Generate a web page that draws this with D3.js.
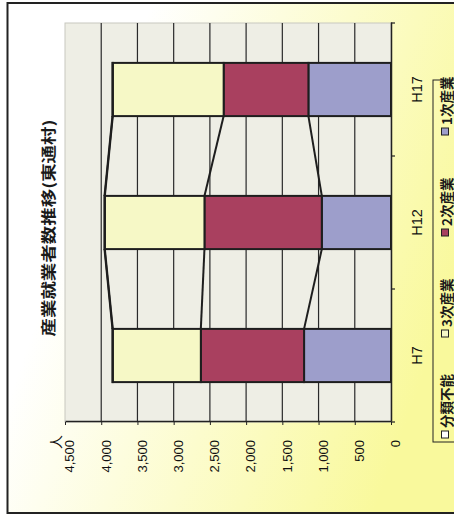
<!DOCTYPE html>
<html>
<head>
<meta charset="utf-8">
<script src="https://cdn.jsdelivr.net/npm/d3@7"></script>
<style>
  body { margin: 0; background: #fff; }
  svg { display: block; }
</style>
</head>
<body>
<svg id="chart" width="454" height="518"></svg>
<script>
// values (people)
const categories = ["H7", "H12", "H17"];
const primary = [1200, 955, 1140];      // 1次産業
const secondary = [1425, 1620, 1170];   // 2次産業
const tertiary = [1215, 1375, 1530];    // 3次産業
const unclassified = [5, 5, 5];         // 分類不能
const valueTicks = [0, 500, 1000, 1500, 2000, 2500, 3000, 3500, 4000, 4500];
const keys = ["1次産業", "2次産業", "3次産業", "分類不能"];
const legendOrder = ["分類不能", "3次産業", "2次産業", "1次産業"];
const colors = {
  "1次産業": "#9d9ecb",
  "2次産業": "#a9405f",
  "3次産業": "#f6f8c6",
  "分類不能": "#ffffff"
};

const svg = d3.select("#chart");
const W = 518; // the chart is drawn unrotated, then turned a quarter to the left

// chart area gradient, in page coordinates
const defs = svg.append("defs");
const grad = defs.append("linearGradient")
  .attr("id", "bg")
  .attr("gradientUnits", "userSpaceOnUse")
  .attr("x1", 80).attr("y1", 200)
  .attr("x2", 440).attr("y2", 330);
grad.append("stop").attr("offset", 0).attr("stop-color", "#ffffff");
grad.append("stop").attr("offset", 1).attr("stop-color", "#f9f99c");

svg.append("rect")
  .attr("x", 7.5).attr("y", 3)
  .attr("width", 480).attr("height", 510)
  .attr("fill", "url(#bg)")
  .attr("stroke", "#222")
  .attr("stroke-width", 2);

const g = svg.append("g").attr("transform", `translate(0,${W}) rotate(-90)`);

const plot = { left: 96, right: 495, top: 65, bottom: 391 };

const x = d3.scaleBand()
  .domain(categories)
  .range([plot.left, plot.right])
  .paddingInner(0.6)
  .paddingOuter(0.3);

const y = d3.scaleLinear()
  .domain([0, 4500])
  .range([plot.bottom, plot.top]);

const table = categories.map((c, i) => ({
  cat: c,
  "1次産業": primary[i],
  "2次産業": secondary[i],
  "3次産業": tertiary[i],
  "分類不能": unclassified[i]
}));
const layers = d3.stack().keys(keys)(table);

// plot area
g.append("rect")
  .attr("x", plot.left).attr("y", plot.top)
  .attr("width", plot.right - plot.left)
  .attr("height", plot.bottom - plot.top)
  .attr("fill", "#eeeee5")
  .attr("stroke", "#c8c8c0")
  .attr("stroke-width", 1);

// gridlines
g.append("g")
  .selectAll("line")
  .data(valueTicks.filter(d => d > 0 && d < 4500))
  .join("line")
  .attr("x1", plot.left).attr("x2", plot.right)
  .attr("y1", d => y(d)).attr("y2", d => y(d))
  .attr("stroke", "#2a2a2a")
  .attr("stroke-width", 1.2);

// series lines between the columns
const bw = x.bandwidth();
layers.forEach(layer => {
  for (let i = 0; i < categories.length - 1; i++) {
    g.append("line")
      .attr("x1", x(categories[i]) + bw)
      .attr("y1", y(layer[i][1]))
      .attr("x2", x(categories[i + 1]))
      .attr("y2", y(layer[i + 1][1]))
      .attr("stroke", "#1e1e1e")
      .attr("stroke-width", 2);
  }
});

// columns
g.append("g")
  .selectAll("g")
  .data(layers)
  .join("g")
  .attr("fill", d => colors[d.key])
  .selectAll("rect")
  .data(d => d)
  .join("rect")
  .attr("x", d => x(d.data.cat))
  .attr("y", d => y(d[1]))
  .attr("width", bw)
  .attr("height", d => y(d[0]) - y(d[1]))
  .attr("stroke", "#1e1e1e")
  .attr("stroke-width", 2);

// value axis
const yAxis = g.append("g")
  .attr("transform", `translate(${plot.left},0)`)
  .call(d3.axisLeft(y)
    .tickValues(valueTicks)
    .tickFormat(d3.format(","))
    .tickSize(3)
    .tickSizeOuter(0)
    .tickPadding(15));
yAxis.select(".domain").attr("stroke", "#222").attr("stroke-width", 1.5);
yAxis.selectAll(".tick line").attr("stroke", "#222");
yAxis.selectAll("text")
  .attr("dy", "0.68em")
  .attr("fill", "#111")
  .style("font-family", "'Liberation Sans', Arial, sans-serif")
  .style("font-size", "13px");

// category axis
const xAxis = g.append("g")
  .attr("transform", `translate(0,${plot.bottom})`)
  .call(d3.axisBottom(x).tickSize(0).tickPadding(21));
xAxis.select(".domain").attr("stroke", "#222").attr("stroke-width", 1.5);
xAxis.selectAll("text")
  .attr("fill", "#111")
  .style("font-family", "'Liberation Sans', Arial, sans-serif")
  .style("font-size", "14.5px");
// tick marks sit on the category boundaries
const step = x.step();
g.append("g")
  .selectAll("line")
  .data(d3.range(categories.length + 1))
  .join("line")
  .attr("x1", i => plot.left + i * step)
  .attr("x2", i => plot.left + i * step)
  .attr("y1", plot.bottom)
  .attr("y2", plot.bottom + 4)
  .attr("stroke", "#222")
  .attr("stroke-width", 1.2);

// unit label
g.append("text")
  .attr("x", 76).attr("y", 55)
  .attr("text-anchor", "middle")
  .attr("dominant-baseline", "central")
  .attr("fill", "#111")
  .style("font-family", "'Noto Sans CJK JP', sans-serif")
  .style("font-size", "14px")
  .text("人");

// title
g.append("text")
  .attr("x", 290).attr("y", 47)
  .attr("text-anchor", "middle")
  .attr("dominant-baseline", "central")
  .attr("textLength", 217)
  .attr("lengthAdjust", "spacingAndGlyphs")
  .attr("fill", "#1a1a1a")
  .style("font-family", "'Noto Sans CJK JP', sans-serif")
  .style("font-weight", "bold")
  .style("font-size", "14.5px")
  .text("産業就業者数推移(東通村)");

// legend
const legend = g.append("g");
legend.append("rect")
  .attr("x", 76).attr("y", 433)
  .attr("width", 362).attr("height", 40)
  .attr("fill", "none")
  .attr("stroke", "#222")
  .attr("stroke-width", 1);
const item = legend.selectAll("g.item")
  .data(legendOrder)
  .join("g")
  .attr("class", "item")
  .attr("transform", (d, i) => `translate(${80 + i * 101},445)`);
item.append("rect")
  .attr("x", 0).attr("y", -3.5)
  .attr("width", 7).attr("height", 7)
  .attr("fill", d => colors[d])
  .attr("stroke", "#222")
  .attr("stroke-width", 1);
item.append("text")
  .attr("x", 10).attr("y", 0.5)
  .attr("dominant-baseline", "central")
  .attr("fill", "#1a1a1a")
  .style("font-family", "'Noto Sans CJK JP', sans-serif")
  .style("font-weight", "bold")
  .style("font-size", "13.5px")
  .text(d => d);
</script>
</body>
</html>
